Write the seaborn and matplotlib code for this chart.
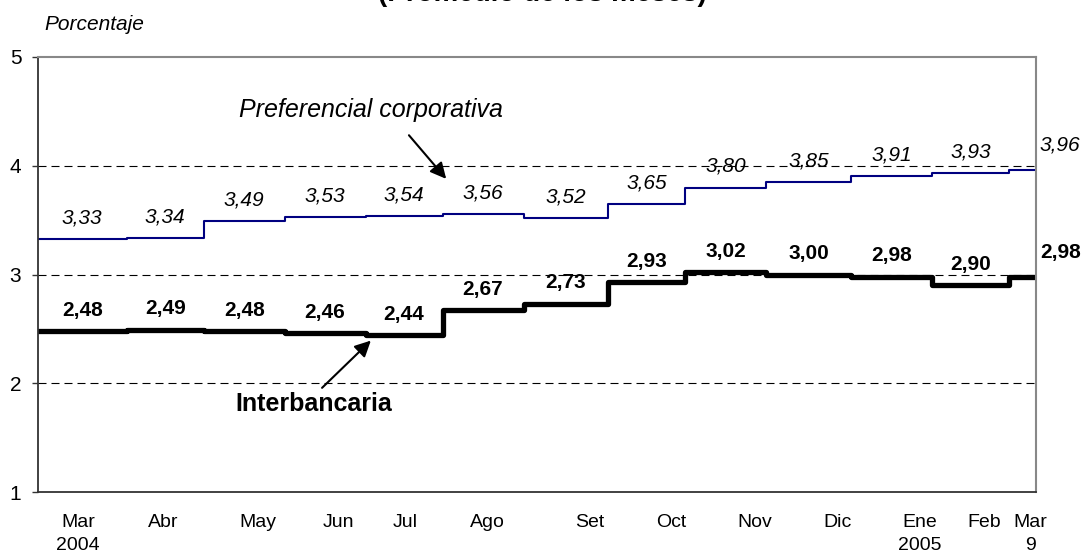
import matplotlib
matplotlib.use("Agg")
import matplotlib.pyplot as plt
import seaborn as sns
import numpy as np
import pandas as pd

# monthly averages, Mar 2004 - Mar 9 2005
months = ["Mar\n2004", "Abr", "May", "Jun", "Jul", "Ago", "Set", "Oct", "Nov", "Dic", "Ene\n2005", "Feb", "Mar\n9"]
business_days = [23, 20, 21, 21, 20, 21, 22, 20, 21, 22, 21, 20, 7]
corporativa = [3.33, 3.34, 3.49, 3.53, 3.54, 3.56, 3.52, 3.65, 3.80, 3.85, 3.91, 3.93, 3.96]
interbancaria = [2.48, 2.49, 2.48, 2.46, 2.44, 2.67, 2.73, 2.93, 3.02, 3.00, 2.98, 2.90, 2.98]
label_pos = [10.4, 32.4, 57.1, 77.9, 95.2, 116.5, 143.3, 164.3, 186.1, 207.4, 228.9, 245.5, 257.5]

sns.set_style("white")
plt.rcParams["font.family"] = ["Liberation Sans", "DejaVu Sans"]
plt.rcParams["text.color"] = "black"
plt.rcParams["xtick.color"] = "black"
plt.rcParams["ytick.color"] = "black"

starts = np.concatenate([[0], np.cumsum(business_days)])  # month boundaries
end = starts[-1]
mids = (starts[:-1] + starts[1:]) / 2

df = pd.DataFrame({
    "x": np.concatenate([starts, starts]),
    "tasa": corporativa + [corporativa[-1]] + interbancaria + [interbancaria[-1]],
    "serie": ["corp"] * len(starts) + ["inter"] * len(starts),
})

fig = plt.figure(figsize=(10.83, 5.59), dpi=100)
ax = fig.add_axes([38 / 1083, 1 - 492 / 559, 998 / 1083, 435 / 559])

sns.lineplot(data=df[df.serie == "corp"], x="x", y="tasa", ax=ax, color="#000080",
             linewidth=1.5, drawstyle="steps-post")
sns.lineplot(data=df[df.serie == "inter"], x="x", y="tasa", ax=ax, color="black",
             linewidth=3.8, drawstyle="steps-post")

ax.set_xlim(0, end)
ax.set_ylim(1, 5)
ax.set_yticks([1, 2, 3, 4, 5])
ax.set_yticklabels(["1", "2", "3", "4", "5"], fontsize=15)
ax.set_xticks(label_pos)
ax.set_xticklabels(months, fontsize=14, linespacing=1.45)
ax.tick_params(axis="x", length=0, pad=16)
ax.tick_params(axis="y", length=4, width=1, color="#333333", pad=8, left=True)
ax.set_xlabel("")
ax.set_ylabel("")

for yg in [2, 3, 4]:
    ax.axhline(yg, color="black", lw=0.8, linestyle=(0, (7.2, 4.5)), zorder=0)

for s in ["left", "bottom"]:
    ax.spines[s].set_color("#333333")
    ax.spines[s].set_linewidth(1.3)
for s in ["top", "right"]:
    ax.spines[s].set_color("#888888")
    ax.spines[s].set_linewidth(1.5)

# data labels
for i, v in enumerate(corporativa):
    txt = f"{v:.2f}".replace(".", ",")
    if i == len(corporativa) - 1:
        ax.annotate(txt, xy=(end, v), xytext=(4, 25), textcoords="offset pixels",
                    ha="left", va="center", fontsize=15, style="italic", annotation_clip=False)
    else:
        ax.annotate(txt, xy=(mids[i], v), xytext=(0, 21), textcoords="offset pixels",
                    ha="center", va="center", fontsize=15, style="italic")
for i, v in enumerate(interbancaria):
    txt = f"{v:.2f}".replace(".", ",")
    if i == len(interbancaria) - 1:
        ax.annotate(txt, xy=(end, v), xytext=(4, 24), textcoords="offset pixels",
                    ha="left", va="center", fontsize=15, weight="bold", annotation_clip=False)
    else:
        ax.annotate(txt, xy=(mids[i], v), xytext=(0, 21), textcoords="offset pixels",
                    ha="center", va="center", fontsize=15, weight="bold")

# series names with arrows
ax.text(86.4, 4.51, "Preferencial corporativa", ha="center", va="center",
        fontsize=18, style="italic")
ax.annotate("", xy=(106.4, 3.86), xytext=(95.8, 4.30),
            arrowprops=dict(arrowstyle="-|>", color="black", lw=1.5, mutation_scale=24))
ax.text(71.6, 1.81, "Interbancaria", ha="center", va="center", fontsize=18, weight="bold")
ax.annotate("", xy=(86.9, 2.41), xytext=(73.2, 1.94),
            arrowprops=dict(arrowstyle="-|>", color="black", lw=1.5, mutation_scale=24))

fig.text(44 / 1083, 1 - 25 / 559, "Porcentaje", ha="left", va="center", fontsize=15, style="italic")
# title is cut by the top edge in the original
fig.text(542 / 1083, 1 - 1 / 559, "(Promedio de los meses)", ha="center", va="baseline",
         fontsize=20, weight="bold")

fig.savefig("out.png", dpi=100)
